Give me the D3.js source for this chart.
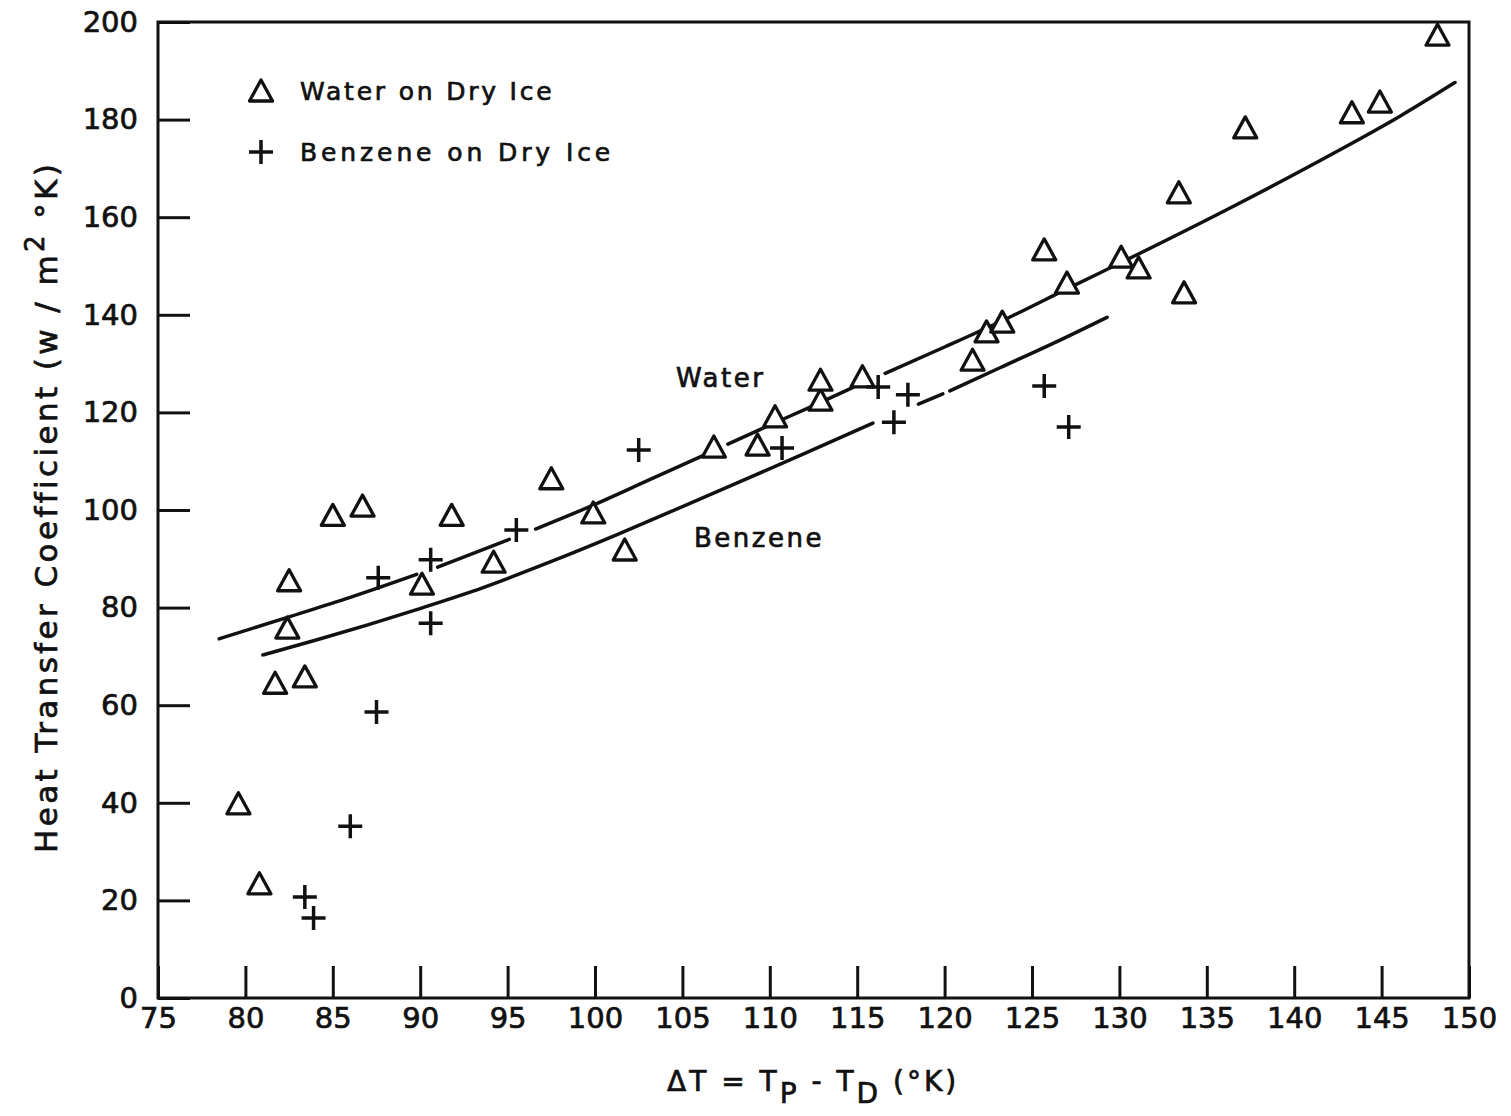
<!DOCTYPE html>
<html>
<head>
<meta charset="utf-8">
<script src="https://cdn.jsdelivr.net/npm/d3@7"></script>
<style>
  html, body { margin: 0; padding: 0; background: #fff; }
  svg { display: block; }
  text { font-family: "DejaVu Sans", sans-serif; fill: #111; }
</style>
</head>
<body>
<svg id="chart" width="1511" height="1116"></svg>
<script>
// Heat transfer coefficient vs. temperature difference, water and benzene drops on dry ice

// Measured points: water on dry ice (triangles)
const waterDT = [79.6, 80.8, 81.7, 82.5, 82.4, 83.4, 85.0, 86.7, 90.1, 91.8, 94.2, 97.5,
  99.9, 101.7, 106.8, 109.3, 110.3, 112.9, 112.9, 115.3, 121.6, 122.4, 123.3, 125.7,
  127.0, 130.1, 131.1, 133.4, 133.7, 137.2, 143.3, 144.9, 148.2];
const waterH = [39.8, 23.4, 64.5, 85.5, 75.8, 65.8, 98.9, 100.8, 84.8, 98.9, 89.3, 106.4,
  99.4, 91.8, 112.9, 113.3, 119.1, 122.5, 126.6, 127.3, 130.7, 136.5, 138.5, 153.3,
  146.5, 151.8, 149.6, 165.0, 144.5, 178.3, 181.4, 183.6, 197.3];

// Measured points: benzene on dry ice (plus signs)
const benzeneDT = [87.6, 90.6, 90.6, 87.5, 86.0, 83.4, 83.9, 95.5, 102.5, 110.7, 116.2,
  117.1, 117.9, 125.7, 127.1];
const benzeneH = [86.1, 89.8, 76.8, 58.6, 35.2, 20.7, 16.4, 95.9, 112.3, 112.7, 125.2,
  118.0, 123.6, 125.4, 117.0];

// Hand-drawn fit curves, broken where they pass behind markers: [ΔT, h] per segment
const waterCurve = [
  [[78.5, 73.6], [82.4, 78.0], [86.0, 82.1], [89.8, 86.8]],
  [[91.0, 88.3], [95.1, 94.0]],
  [[96.6, 96.1], [99.9, 101.0], [103.0, 106.0], [106.4, 111.5]],
  [[107.6, 113.5], [110.0, 117.4], [112.5, 121.4], [114.8, 125.2]],
  [[116.6, 128.0], [120.0, 133.4], [123.6, 139.3], [127.0, 145.3], [131.0, 152.3],
   [136.5, 162.2], [142.2, 173.0], [146.1, 180.8], [149.2, 187.6]]
];
const benzeneCurve = [
  [[81.0, 70.3], [84.1, 73.4], [89.8, 79.6], [93.6, 84.1], [97.4, 89.3], [101.3, 95.0],
   [104.3, 99.6], [108.3, 105.8], [112.0, 111.6], [115.9, 117.8]],
  [[118.5, 121.7], [119.9, 123.8]],
  [[120.3, 124.4], [123.2, 129.2], [126.3, 134.3], [129.3, 139.5]]
];

const xTicks = [75, 80, 85, 90, 95, 100, 105, 110, 115, 120, 125, 130, 135, 140, 145, 150];
const yTicks = [0, 20, 40, 60, 80, 100, 120, 140, 160, 180, 200];

const svg = d3.select("#chart");
svg.append("rect").attr("width", 1511).attr("height", 1116).attr("fill", "#fff");

const x = d3.scaleLinear().domain([75, 150]).range([158, 1469]);
const y = d3.scaleLinear().domain([0, 200]).range([998, 22]);

const ink = "#111";
const textStroke = 0.7;

// Axes with inward ticks
const xAxis = svg.append("g")
  .attr("transform", `translate(0,${y(0)})`)
  .call(d3.axisBottom(x).tickValues(xTicks).tickSize(-32).tickPadding(9).tickFormat(d3.format("d")));
const yAxis = svg.append("g")
  .attr("transform", `translate(${x(75)},0)`)
  .call(d3.axisLeft(y).tickValues(yTicks).tickSize(-32).tickPadding(20).tickFormat(d3.format("d")));

[xAxis, yAxis].forEach(g => {
  g.select(".domain").remove();
  g.selectAll(".tick line").attr("stroke", ink).attr("stroke-width", 3);
  g.selectAll(".tick text")
    .attr("fill", ink)
    .style("font-family", "'DejaVu Sans', sans-serif")
    .style("font-size", "29px")
    .attr("stroke", ink).attr("stroke-width", textStroke);
});

// Plot frame
svg.append("rect")
  .attr("x", x(75)).attr("y", y(200))
  .attr("width", x(150) - x(75)).attr("height", y(0) - y(200))
  .attr("fill", "none").attr("stroke", ink).attr("stroke-width", 3);

// Fit curves
const line = d3.line().x(d => x(d[0])).y(d => y(d[1])).curve(d3.curveMonotoneX);
const curves = svg.append("g").attr("fill", "none").attr("stroke", ink)
  .attr("stroke-width", 3.5).attr("stroke-linecap", "round");
curves.selectAll("path.water").data(waterCurve).join("path").attr("class", "water").attr("d", line);
curves.selectAll("path.benzene").data(benzeneCurve).join("path").attr("class", "benzene").attr("d", line);

// Marker shapes
function trianglePath(cx, cy) {
  const p = d3.path();
  p.moveTo(cx, cy - 11);
  p.lineTo(cx + 11.5, cy + 10);
  p.lineTo(cx - 11.5, cy + 10);
  p.closePath();
  return p.toString();
}
function plusPath(cx, cy) {
  const p = d3.path();
  p.moveTo(cx - 12, cy); p.lineTo(cx + 12, cy);
  p.moveTo(cx, cy - 12); p.lineTo(cx, cy + 12);
  return p.toString();
}

const waterPts = waterDT.map((d, i) => [d, waterH[i]]);
const benzenePts = benzeneDT.map((d, i) => [d, benzeneH[i]]);

svg.append("g").selectAll("path").data(waterPts).join("path")
  .attr("d", d => trianglePath(x(d[0]), y(d[1])))
  .attr("fill", "#fff").attr("stroke", ink).attr("stroke-width", 3.3)
  .attr("stroke-linejoin", "round");

svg.append("g").selectAll("path").data(benzenePts).join("path")
  .attr("d", d => plusPath(x(d[0]), y(d[1])))
  .attr("fill", "none").attr("stroke", ink).attr("stroke-width", 3.5);

// Legend
const legend = svg.append("g");
legend.append("path").attr("d", trianglePath(261, 91))
  .attr("fill", "#fff").attr("stroke", ink).attr("stroke-width", 3.3).attr("stroke-linejoin", "round");
legend.append("path").attr("d", plusPath(261, 152))
  .attr("fill", "none").attr("stroke", ink).attr("stroke-width", 3.5);
const legendText = [["Water on Dry Ice", 91, 2.8], ["Benzene on Dry Ice", 152, 3.9]];
legend.selectAll("text").data(legendText).join("text")
  .attr("x", 300).attr("y", d => d[1]).attr("dy", "0.36em")
  .style("font-size", "25px").style("letter-spacing", d => d[2] + "px")
  .attr("stroke", ink).attr("stroke-width", textStroke)
  .text(d => d[0]);

// Curve labels
svg.append("text").attr("x", 676).attr("y", 378).attr("dy", "0.36em")
  .style("font-size", "26px").style("letter-spacing", "2.5px")
  .attr("stroke", ink).attr("stroke-width", textStroke).text("Water");
svg.append("text").attr("x", 694).attr("y", 538).attr("dy", "0.36em")
  .style("font-size", "26px").style("letter-spacing", "2.5px")
  .attr("stroke", ink).attr("stroke-width", textStroke).text("Benzene");

// Axis titles
const xt = svg.append("text").attr("x", 667).attr("y", 1091)
  .style("font-size", "28px").style("letter-spacing", "3px")
  .attr("stroke", ink).attr("stroke-width", textStroke);
xt.append("tspan").text("ΔT = T");
xt.append("tspan").attr("dy", 12).text("P");
xt.append("tspan").attr("dy", -12).text(" - T");
xt.append("tspan").attr("dy", 12).text("D");
xt.append("tspan").attr("dy", -12).text(" (°K)");

const yt = svg.append("text")
  .attr("transform", "translate(57,853) rotate(-90)")
  .style("font-size", "31px").style("letter-spacing", "3.4px")
  .attr("stroke", ink).attr("stroke-width", textStroke);
yt.append("tspan").text("Heat Transfer Coefficient (w / m");
yt.append("tspan").attr("dy", -13).style("font-size", "26px").text("2");
yt.append("tspan").attr("dy", 13).text(" °K)");
</script>
</body>
</html>
